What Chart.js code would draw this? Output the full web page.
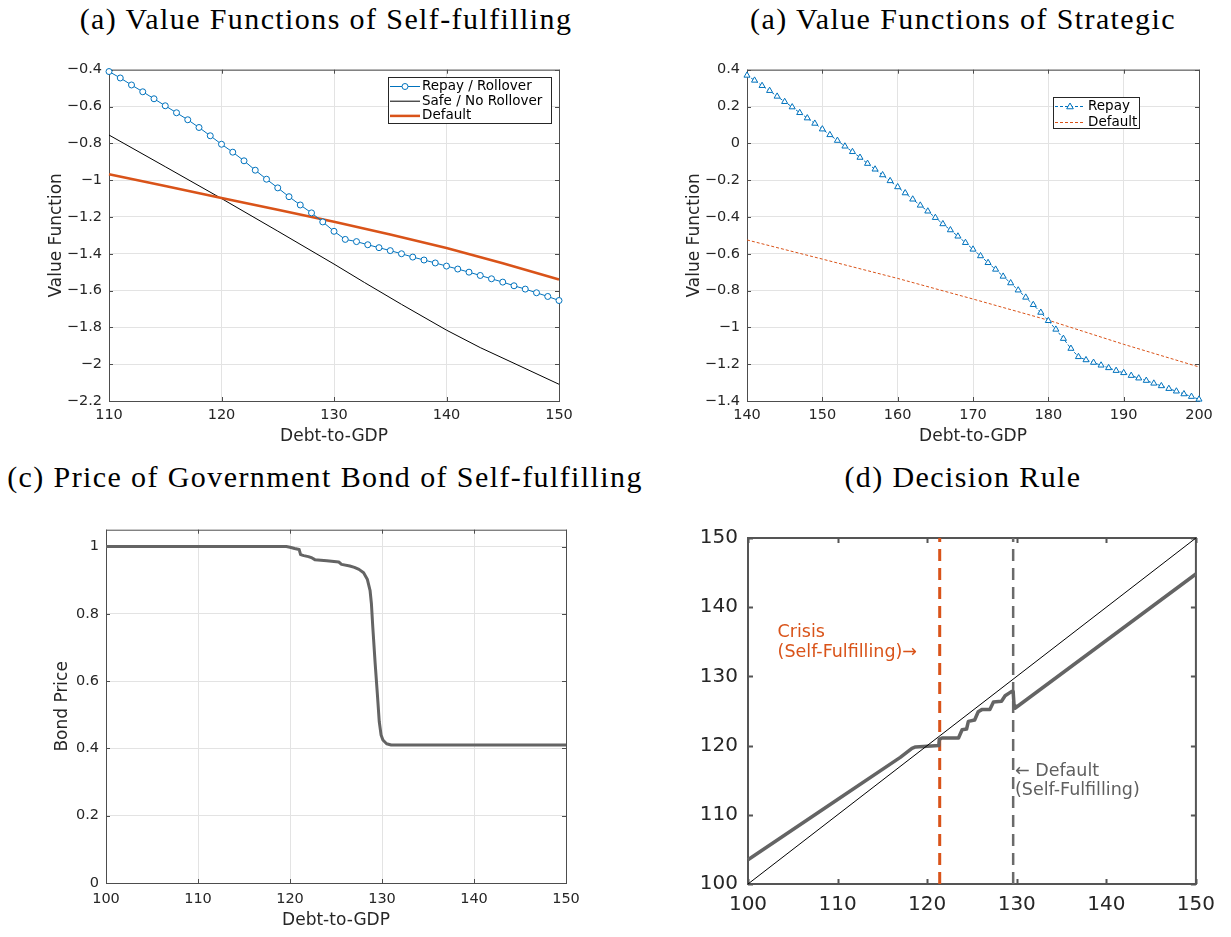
<!DOCTYPE html>
<html><head><meta charset="utf-8">
<script src="https://cdn.jsdelivr.net/npm/chart.js@4.4.1/dist/chart.umd.min.js"></script>
<style>
body{margin:0;background:#fff;width:1231px;height:937px;position:relative;overflow:hidden;font-family:"DejaVu Sans",sans-serif;}
canvas{position:absolute;}
.title{position:absolute;font-family:"Liberation Serif",serif;font-size:30px;letter-spacing:1.4px;color:#000;white-space:nowrap;transform:translate(-50%,-50%);line-height:1.2;}
</style></head><body>
<div class="title" style="left:326px;top:19px">(a) Value Functions of Self-fulfilling</div>
<div class="title" style="left:963px;top:19px">(a) Value Functions of Strategic</div>
<div class="title" style="left:325px;top:477px">(c) Price of Government Bond of Self-fulfilling</div>
<div class="title" style="left:963px;top:477px">(d) Decision Rule</div>
<canvas id="cA" width="540" height="397" style="left:44px;top:54px;width:540px;height:397px"></canvas>
<canvas id="cB" width="542" height="397" style="left:682px;top:54px;width:542px;height:397px"></canvas>
<canvas id="cC" width="545" height="419" style="left:46px;top:514px;width:545px;height:419px"></canvas>
<canvas id="cD" width="546" height="413" style="left:678px;top:516px;width:546px;height:413px"></canvas>
<script>
// ---------- DATA ----------
// Panel (a) Self-fulfilling
const selfDebt = [110,111,112,113,114,115,116,117,118,119,120,121,122,123,124,125,126,127,128,129,130,131,132,133,134,135,136,137,138,139,140,141,142,143,144,145,146,147,148,149,150];
const selfRepay = [-0.41,-0.445,-0.483,-0.52,-0.558,-0.596,-0.634,-0.672,-0.714,-0.759,
  -0.805,-0.848,-0.895,-0.946,-0.995,-1.042,-1.09,-1.135,-1.178,-1.227,
  -1.278,-1.322,-1.334,-1.351,-1.367,-1.383,-1.40,-1.418,-1.434,-1.45,
  -1.467,-1.483,-1.50,-1.518,-1.536,-1.554,-1.574,-1.592,-1.612,-1.632,-1.654];
const selfSafeDebt = [110,115,120,125,130,132.7,136,140,143,146,150];
const selfSafe = [-0.755,-0.927,-1.10,-1.277,-1.456,-1.556,-1.675,-1.815,-1.91,-1.995,-2.109];
const selfDefaultDebt = [110,115,120,125,130,135,140,145,150];
const selfDefault = [-0.968,-1.032,-1.097,-1.161,-1.226,-1.295,-1.369,-1.452,-1.54];

// Panel (a) Strategic
const stratDebt = [140,141,142,143,144,145,146,147,148,149,150,151,152,153,154,155,156,157,158,159,160,161,162,163,164,165,166,167,168,169,170,171,172,173,174,175,176,177,178,179,180,181,182,183,184,185,186,187,188,189,190,191,192,193,194,195,196,197,198,199,200];
const stratRepay = [0.369,0.342,0.313,0.286,0.255,0.226,0.197,0.166,0.137,0.108,
  0.077,0.046,0.015,-0.016,-0.046,-0.077,-0.11,-0.141,-0.172,-0.204,
  -0.237,-0.27,-0.304,-0.337,-0.369,-0.404,-0.438,-0.471,-0.505,-0.54,
  -0.576,-0.612,-0.649,-0.685,-0.723,-0.759,-0.798,-0.837,-0.877,-0.919,
  -0.964,-1.011,-1.061,-1.115,-1.16,-1.177,-1.191,-1.206,-1.22,-1.235,
  -1.247,-1.262,-1.276,-1.289,-1.304,-1.318,-1.333,-1.347,-1.362,-1.376,-1.391];
const stratDefaultDebt = [140,150,160,170,180,190,200];
const stratDefault = [-0.525,-0.629,-0.734,-0.846,-0.961,-1.092,-1.215];

// Panel (c) Bond price
const bondDebt = [100,119.6,120,120.5,121,121.15,121.5,122,122.4,122.7,124,125.3,125.6,126.5,127,127.5,128,128.4,128.7,128.85,129,129.25,129.5,129.7,129.9,130.1,130.5,131,150];
const bondPrice = [1,1,0.998,0.994,0.991,0.976,0.973,0.970,0.966,0.961,0.958,0.954,0.947,0.942,0.938,0.932,0.922,0.903,0.87,0.83,0.76,0.655,0.56,0.48,0.44,0.425,0.414,0.41,0.41];

// Panel (d) Decision rule
const ruleDebt = [100,110,117,118.3,118.7,121.3,121.35,121.65,123.5,123.9,124.4,124.6,125.3,125.7,126.1,127.0,127.4,128.3,128.7,129.4,129.6,129.7,129.8,150];
const ruleNext = [103.5,112.2,118.3,119.6,119.8,120.0,120.9,121.1,121.1,122.3,122.4,123.5,123.7,124.9,125.2,125.2,126.3,126.4,127.2,127.8,127.8,125.8,125.4,144.8];
const diagDebt = [100,150];
const diagNext = [100,150];
const crisisDebt = 121.4;
const defaultDebt = 129.6;
const crisisLabel = ['Crisis','(Self-Fulfilling)\u2192'];
const crisisLabelPos = {x:103.3, y:[136.3,133.4]};
const defaultLabel = ['\u2190 Default','(Self-Fulfilling)'];
const defaultLabelPos = {x:129.8, y:[116.3,113.5]};

// ---------- HELPERS ----------
const BLUE = '#0072BD', ORANGE = '#D95319';
const FONT = '"DejaVu Sans", sans-serif';
const pts = (xs, ys) => xs.map((x, i) => ({x, y: ys[i]}));
const fmt = v => { let r = Math.round(v * 10) / 10; if (Object.is(r, -0)) r = 0; return String(r).replace('-', '\u2212'); };

function drawMarker(ctx, style, x, y, r) {
  ctx.beginPath();
  if (style === 'triangle') {
    ctx.moveTo(x, y - r); ctx.lineTo(x + r * 0.95, y + r * 0.65); ctx.lineTo(x - r * 0.95, y + r * 0.65); ctx.closePath();
  } else {
    ctx.arc(x, y, r, 0, Math.PI * 2);
  }
  ctx.fill(); ctx.stroke();
}

const boxPlugin = {
  id: 'matBox',
  beforeDatasetsDraw(chart, args, o) {
    const {ctx, chartArea: a, scales: {x, y}} = chart;
    ctx.save();
    ctx.strokeStyle = o.color; ctx.lineWidth = o.width;
    const tl = o.tick;
    ctx.beginPath();
    x.ticks.forEach(t => {
      const px = Math.round(x.getPixelForValue(t.value)) + 0.5;
      ctx.moveTo(px, a.bottom); ctx.lineTo(px, a.bottom - tl);
      ctx.moveTo(px, a.top); ctx.lineTo(px, a.top + tl);
    });
    y.ticks.forEach(t => {
      const py = Math.round(y.getPixelForValue(t.value)) + 0.5;
      ctx.moveTo(a.left, py); ctx.lineTo(a.left + tl, py);
      ctx.moveTo(a.right, py); ctx.lineTo(a.right - tl, py);
    });
    ctx.stroke();
    const off = o.width % 2 === 1 ? 0.5 : 0;
    ctx.strokeRect(a.left + off, a.top + off, a.right - a.left, a.bottom - a.top);
    ctx.restore();
  }
};

const legendPlugin = {
  id: 'matLegend',
  afterDatasetsDraw(chart, args, o) {
    if (!o || !o.w) return;
    const {ctx, chartArea: a} = chart;
    const bx = Math.round(a.right - o.right - o.w), by = Math.round(a.top + o.top);
    ctx.save();
    ctx.fillStyle = '#fff'; ctx.fillRect(bx, by, o.w, o.h);
    ctx.strokeStyle = '#262626'; ctx.lineWidth = 1; ctx.strokeRect(bx + 0.5, by + 0.5, o.w, o.h);
    ctx.font = o.font; ctx.textBaseline = 'middle'; ctx.textAlign = 'left';
    chart.data.datasets.filter(d => d.label).forEach((d, i) => {
      const yy = by + o.row0 + i * o.gap;
      ctx.save();
      ctx.strokeStyle = d.borderColor; ctx.lineWidth = d.borderWidth; ctx.setLineDash(d.borderDash || []);
      ctx.beginPath(); ctx.moveTo(bx + o.s0, yy); ctx.lineTo(bx + o.s1, yy); ctx.stroke();
      ctx.setLineDash([]);
      if (d.pointRadius > 0) {
        ctx.fillStyle = d.pointBackgroundColor; ctx.strokeStyle = d.pointBorderColor; ctx.lineWidth = d.pointBorderWidth;
        drawMarker(ctx, d.pointStyle, bx + (o.s0 + o.s1) / 2, yy, d.pointRadius);
      }
      ctx.restore();
      ctx.fillStyle = '#000';
      ctx.fillText(d.label, bx + o.tx, yy);
    });
    ctx.restore();
  }
};

const textPlugin = {
  id: 'matText',
  afterDatasetsDraw(chart, args, o) {
    if (!o || !o.items) return;
    const {ctx, scales: {x, y}} = chart;
    o.items.forEach(it => {
      ctx.save(); ctx.font = o.font; ctx.fillStyle = it.color; ctx.textBaseline = 'middle'; ctx.textAlign = 'left';
      it.lines.forEach((ln, i) => ctx.fillText(ln, x.getPixelForValue(it.x), y.getPixelForValue(it.y[i])));
      ctx.restore();
    });
  }
};

function axis(c) {
  return {
    type: 'linear', min: c.min, max: c.max,
    ticks: {stepSize: c.step, includeBounds: false, autoSkip: false, maxRotation: 0, padding: c.pad,
      font: {family: FONT, size: c.fs}, color: '#262626', callback: fmt},
    grid: {display: c.grid, color: '#e3e3e3', lineWidth: 1, drawTicks: false},
    border: {display: false},
    title: c.title ? {display: true, text: c.title, color: '#262626', font: {family: FONT, size: 17}, padding: c.tpad} : {display: false},
    afterFit: s => { if (c.w) s.width = c.w; if (c.h) s.height = c.h; }
  };
}

function makeChart(id, datasets, c) {
  return new Chart(document.getElementById(id), {
    type: 'line',
    data: {datasets},
    options: {
      responsive: false, animation: false, devicePixelRatio: 1,
      layout: {padding: {top: 15, right: 25, left: 0, bottom: 0}},
      elements: {line: {tension: 0}},
      plugins: {legend: {display: false}, tooltip: {enabled: false},
        matBox: c.box, matLegend: c.legend || {}, matText: c.text || {}},
      scales: {x: axis(c.x), y: axis(c.y)}
    },
    plugins: [boxPlugin, legendPlugin, textPlugin]
  });
}

// Panel A
makeChart('cA', [
  {label: 'Repay / Rollover', data: pts(selfDebt, selfRepay), borderColor: BLUE, borderWidth: 1,
   pointStyle: 'circle', pointRadius: 3, pointBorderWidth: 1, pointBorderColor: BLUE, pointBackgroundColor: '#fff', clip: false, order: 1},
  {label: 'Safe / No Rollover', data: pts(selfSafeDebt, selfSafe), borderColor: '#000', borderWidth: 1, pointRadius: 0, clip: false, order: 3},
  {label: 'Default', data: pts(selfDefaultDebt, selfDefault), borderColor: ORANGE, borderWidth: 2.5, pointRadius: 0, clip: false, order: 2}
], {
  x: {min: 110, max: 150, step: 10, pad: 6, fs: 14.5, grid: true, title: 'Debt-to-GDP', tpad: {top: 0, bottom: 4}, h: 50},
  y: {min: -2.2, max: -0.4, step: 0.2, pad: 7, fs: 14.5, grid: true, title: 'Value Function', tpad: {top: 2, bottom: 0}, w: 65},
  box: {color: '#4d4d4d', width: 1, tick: 4},
  legend: {w: 163, h: 46, right: 8, top: 7, row0: 9.5, gap: 14.7, s0: 2, s1: 32, tx: 34, font: '13.5px ' + FONT}
});

// Panel B
makeChart('cB', [
  {label: 'Repay', data: pts(stratDebt, stratRepay), borderColor: BLUE, borderWidth: 1, borderDash: [3, 2],
   pointStyle: 'triangle', pointRadius: 3.5, pointBorderWidth: 1, pointBorderColor: BLUE, pointBackgroundColor: '#fff', clip: false},
  {label: 'Default', data: pts(stratDefaultDebt, stratDefault), borderColor: ORANGE, borderWidth: 1, borderDash: [3, 2], pointRadius: 0, clip: false}
], {
  x: {min: 140, max: 200, step: 10, pad: 6, fs: 14.5, grid: true, title: 'Debt-to-GDP', tpad: {top: 0, bottom: 4}, h: 50},
  y: {min: -1.4, max: 0.4, step: 0.2, pad: 7, fs: 14.5, grid: true, title: 'Value Function', tpad: {top: 2, bottom: 0}, w: 65},
  box: {color: '#4d4d4d', width: 1, tick: 4},
  legend: {w: 86, h: 31, right: 60, top: 27, row0: 9.5, gap: 16, s0: 2, s1: 32, tx: 35, font: '13.5px ' + FONT}
});

// Panel C
makeChart('cC', [
  {data: pts(bondDebt, bondPrice), borderColor: '#646464', borderWidth: 3, pointRadius: 0, borderJoinStyle: 'round', clip: false}
], {
  x: {min: 100, max: 150, step: 10, pad: 8, fs: 14.5, grid: true, title: 'Debt-to-GDP', tpad: {top: 0, bottom: 2}, h: 50},
  y: {min: 0, max: 1.05, step: 0.2, pad: 7, fs: 14.5, grid: true, title: 'Bond Price', tpad: {top: 6, bottom: 0}, w: 60},
  box: {color: '#4d4d4d', width: 1, tick: 4}
});

// Panel D
makeChart('cD', [
  {data: pts(diagDebt, diagNext), borderColor: '#000', borderWidth: 1, pointRadius: 0, clip: false},
  {data: pts(ruleDebt, ruleNext), borderColor: '#646464', borderWidth: 3.5, pointRadius: 0, borderJoinStyle: 'round', clip: false},
  {data: pts([crisisDebt, crisisDebt], [100, 150]), borderColor: ORANGE, borderWidth: 3, borderDash: [12, 7], pointRadius: 0, clip: false},
  {data: pts([defaultDebt, defaultDebt], [100, 150]), borderColor: '#6a6a6a', borderWidth: 2.5, borderDash: [12, 7], pointRadius: 0, clip: false}
], {
  x: {min: 100, max: 150, step: 10, pad: 9, fs: 20, grid: false, h: 45},
  y: {min: 100, max: 150, step: 10, pad: 10, fs: 20, grid: false, w: 70},
  box: {color: '#555', width: 2, tick: 5},
  text: {font: '17.5px ' + FONT, items: [
    {lines: crisisLabel, x: crisisLabelPos.x, y: crisisLabelPos.y, color: ORANGE},
    {lines: defaultLabel, x: defaultLabelPos.x, y: defaultLabelPos.y, color: '#5f5f5f'}
  ]}
});
</script>
</body></html>
